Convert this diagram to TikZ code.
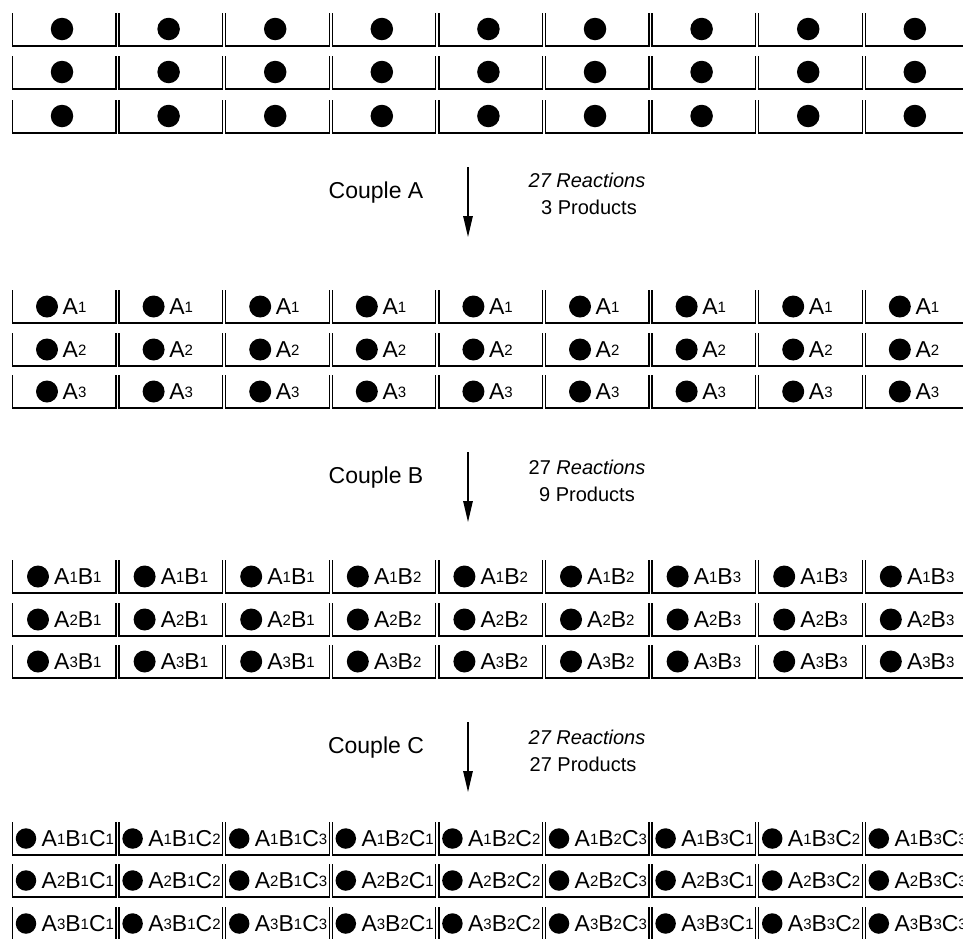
\documentclass[tikz,border=0pt]{standalone}
\usepackage{fontspec}
\setmainfont{Liberation Sans}
\usetikzlibrary{arrows.meta}
\newcommand{\sbd}[1]{\raisebox{1.5pt}{\fontsize{15}{15}\selectfont #1}}
\begin{document}
\begin{tikzpicture}[x=1pt,y=-1pt,
  cellline/.style={line width=1.3pt, line join=miter},
  dotA/.style={circle, fill=black, inner sep=0pt, minimum size=22.5pt},
  dotB/.style={circle, fill=black, inner sep=0pt, minimum size=22pt},
  dotC/.style={circle, fill=black, inner sep=0pt, minimum size=20.5pt},
  lab/.style={anchor=west, inner sep=0pt, font=\fontsize{23}{23}\selectfont},
  couple/.style={inner sep=0pt, font=\fontsize{23}{23}\selectfont},
  note/.style={inner sep=0pt, font=\fontsize{20}{20}\selectfont},
  arr/.style={line width=1.3pt, -{Triangle[length=21pt,width=9.5pt]}}]
\useasboundingbox[fill=white] (0,0) rectangle (963,938);
% cell outlines
\foreach \ta/\tb/\tc in {13/56/100, 290/333/375, 560/603/645, 822/864/907} {
  \foreach \t in {\ta,\tb,\tc} {
    \foreach \c in {0,...,8} {
      \pgfmathsetmacro\xl{11+106.6*\c}
      \draw[cellline] (\xl+1.5,\t) -- (\xl+1.5,\t+33) -- (\xl+105,\t+33) -- (\xl+105,\t);
    }
  }
}
% stage 1
\foreach \r/\t in {1/13, 2/56, 3/100} {
  \foreach \c in {0,...,8} {
    \pgfmathsetmacro\xl{11+106.6*\c}
    \node[dotA] (s1r\r c\c) at (\xl+51,\t+16) {};
  }
}
% stage 2
\foreach \r/\t in {1/290, 2/333, 3/375} {
  \foreach \c in {0,...,8} {
    \pgfmathsetmacro\xl{11+106.6*\c}
    \node[dotB] (s2d\r c\c) at (\xl+36,\t+16.5) {};
    \node[lab] (s2t\r c\c) at (\xl+51.5,\t+16.5) {A\sbd{\r}};
  }
}
% stage 3
\foreach \r/\t in {1/560, 2/603, 3/645} {
  \foreach \c in {0,...,8} {
    \pgfmathsetmacro\xl{11+106.6*\c}
    \pgfmathtruncatemacro\bb{int(\c/3)+1}
    \node[dotB] (s3d\r c\c) at (\xl+27,\t+16.5) {};
    \node[lab] (s3t\r c\c) at (\xl+43,\t+16.5) {A\sbd{\r}B\sbd{\bb}};
  }
}
% stage 4
\foreach \r/\t in {1/822, 2/864, 3/907} {
  \foreach \c in {0,...,8} {
    \pgfmathsetmacro\xl{11+106.6*\c}
    \pgfmathtruncatemacro\bb{int(\c/3)+1}
    \pgfmathtruncatemacro\cc{mod(\c,3)+1}
    \node[dotC] (s4d\r c\c) at (\xl+15,\t+16.5) {};
    \node[lab] (s4t\r c\c) at (\xl+30.5,\t+16.5) {A\sbd{\r}B\sbd{\bb}C\sbd{\cc}};
  }
}
% arrows and labels
\coordinate (a1s) at (468,167); \coordinate (a1e) at (468,237);
\coordinate (a2s) at (468,452); \coordinate (a2e) at (468,522);
\coordinate (a3s) at (468,722); \coordinate (a3e) at (468,792);
\draw[arr] (a1s) -- (a1e);
\draw[arr] (a2s) -- (a2e);
\draw[arr] (a3s) -- (a3e);
\node[couple] (cA) at (376,193) {Couple A};
\node[couple] (cB) at (376,478) {Couple B};
\node[couple] (cC) at (376,748) {Couple C};
\node[note] (rA) at (587,180) {\itshape 27 Reactions};
\node[note] (pA) at (589,207) {3 Products};
\node[note] (rB) at (587,467) {27 \itshape Reactions};
\node[note] (pB) at (587,494) {9 Products};
\node[note] (rC) at (587,737) {\itshape 27 Reactions};
\node[note] (pC) at (583,764) {27 Products};
\end{tikzpicture}
\end{document}
